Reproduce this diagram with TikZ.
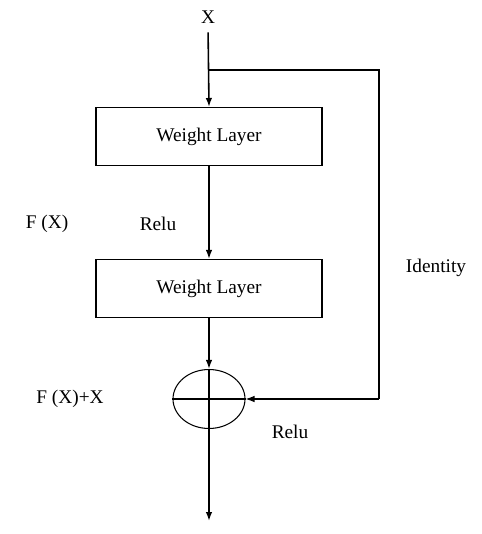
\documentclass[tikz,border=0pt]{standalone}
\usepackage{fontspec}
\setmainfont{Liberation Serif}
\usetikzlibrary{arrows.meta,positioning,shapes.geometric}

\begin{document}
\begin{tikzpicture}[x=0.02cm, y=-0.02cm,
  layer/.style={draw, line width=0.6pt, minimum width=4.52cm, minimum height=1.16cm, inner sep=0pt, font=\fontsize{11}{13}\selectfont},
  adder/.style={draw, ellipse, line width=0.6pt, minimum width=1.44cm, minimum height=1.18cm, inner sep=0pt},
  lbl/.style={font=\fontsize{11}{13}\selectfont, inner sep=1pt},
  arr/.style={-{Latex[length=0.18cm,width=0.13cm]}, line width=0.9pt},
  wire/.style={line width=0.6pt}
]
\useasboundingbox (0,0) rectangle (482,534);

\node[lbl] (in) at (208,17) {X};
\node[layer] (wl1) at (209,136.5) {Weight Layer};
\node[layer] (wl2) at (209,288.5) {Weight Layer};
\node[adder] (sum) at (209,399) {};
\coordinate (split) at (209,70);
\coordinate (cornerA) at (379,70);
\coordinate (cornerB) at (379,399);
\coordinate (out) at (209,521);

% labels
\node[lbl] (fx) at (47,224) {F (X)};
\node[lbl] (relu1) at (158,224) {Relu};
\node[lbl] (ident) at (436,268) {Identity};
\node[lbl] (fxx) at (70,399) {F (X)+X};
\node[lbl] (relu2) at (290,432) {Relu};

% main path
\draw[arr, shorten <=4pt] (in.south) -- (wl1.north);
\draw[arr] (wl1.south) -- (wl2.north);
\draw[arr] (wl2.south) -- (sum.north);
\draw[arr] (sum.south) -- (out);

% shortcut
\draw[wire] (split) -- (cornerA) -- (cornerB);
\draw[wire, -{Latex[length=0.18cm,width=0.13cm]}] (cornerB) -- (sum.east);

% cross in the adder
\draw[wire] (sum.west) -- (sum.east);
\draw[wire] (sum.north) -- (sum.south);

\end{tikzpicture}
\end{document}
